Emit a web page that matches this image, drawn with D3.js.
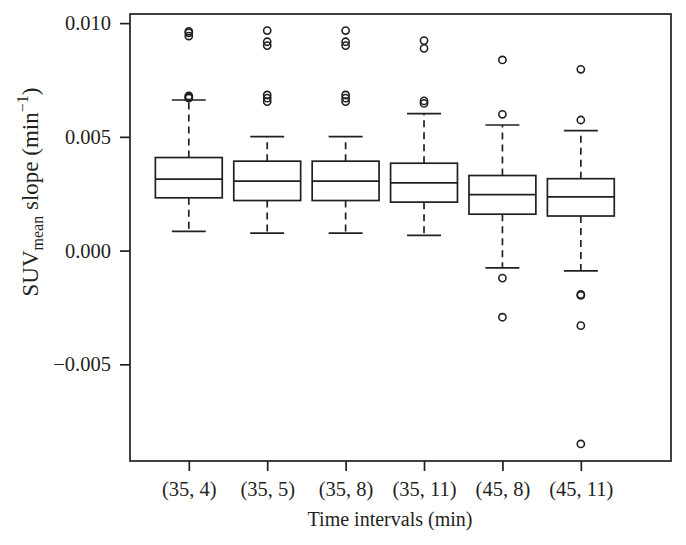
<!DOCTYPE html>
<html>
<head>
<meta charset="utf-8">
<script src="https://cdn.jsdelivr.net/npm/d3@7"></script>
<style>
  body { margin: 0; background: #fff; }
  #chart { width: 686px; height: 545px; }
  text { font-family: "Liberation Serif", "DejaVu Serif", serif; fill: #231f20; }
</style>
</head>
<body>
<div id="chart"></div>
<script>
// values
const categories = ["(35, 4)", "(35, 5)", "(35, 8)", "(35, 11)", "(45, 8)", "(45, 11)"];
const whiskerLow = [0.00084, 0.00077, 0.00077, 0.00067, -0.00076, -0.00089];
const q1 = [0.00232, 0.00220, 0.00220, 0.00213, 0.00160, 0.00152];
const median = [0.00314, 0.00305, 0.00305, 0.00298, 0.00246, 0.00236];
const q3 = [0.00409, 0.00393, 0.00393, 0.00384, 0.00330, 0.00316];
const whiskerHigh = [0.00662, 0.00501, 0.00501, 0.00602, 0.00552, 0.00527];
const outliers = [
    [0.00964, 0.00957, 0.00943, 0.00680, 0.00675, 0.00670],
    [0.00967, 0.00918, 0.00901, 0.00684, 0.00670, 0.00655],
    [0.00967, 0.00918, 0.00901, 0.00684, 0.00670, 0.00655],
    [0.00923, 0.00889, 0.00658, 0.00647],
    [0.00838, 0.00599, -0.00121, -0.00293],
    [0.00797, 0.00574, -0.00193, -0.00197, -0.00330, -0.00850]
];
const yTicks = [-0.005, 0.000, 0.005, 0.010];

function boxplot() {
    const width = 686, height = 545;
    const left = 130, right = 671, top = 14, bottom = 461;

    const svg = d3.select("#chart").append("svg")
        .attr("width", width)
        .attr("height", height);

    const x = d3.scaleLinear().domain([0.25, 7.15]).range([left, right]);
    const y = d3.scaleLinear().domain([-0.00925, 0.0104]).range([bottom, top]);

    const boxW = 0.853, capW = 0.433;
    const stats = categories.map((c, i) => ({
        pos: i + 1, lo: whiskerLow[i], q1: q1[i], med: median[i], q3: q3[i], hi: whiskerHigh[i], out: outliers[i]
    }));

    const g = svg.append("g").attr("stroke", "#231f20").attr("stroke-width", 1.7).attr("fill", "none");

    const box = g.selectAll("g.box").data(stats).join("g").attr("class", "box");

    // dashed whiskers
    box.append("line")
        .attr("x1", d => x(d.pos)).attr("x2", d => x(d.pos))
        .attr("y1", d => y(d.q3)).attr("y2", d => y(d.hi))
        .attr("stroke-dasharray", "7,5");
    box.append("line")
        .attr("x1", d => x(d.pos)).attr("x2", d => x(d.pos))
        .attr("y1", d => y(d.q1)).attr("y2", d => y(d.lo))
        .attr("stroke-dasharray", "7,5");

    // caps
    box.selectAll("line.cap").data(d => [d.lo, d.hi].map(v => ({ pos: d.pos, v: v })))
        .join("line").attr("class", "cap")
        .attr("x1", d => x(d.pos - capW / 2)).attr("x2", d => x(d.pos + capW / 2))
        .attr("y1", d => y(d.v)).attr("y2", d => y(d.v));

    box.append("rect")
        .attr("x", d => x(d.pos - boxW / 2))
        .attr("width", d => x(d.pos + boxW / 2) - x(d.pos - boxW / 2))
        .attr("y", d => y(d.q3))
        .attr("height", d => y(d.q1) - y(d.q3))
        .attr("fill", "#fff");

    box.append("line")
        .attr("x1", d => x(d.pos - boxW / 2)).attr("x2", d => x(d.pos + boxW / 2))
        .attr("y1", d => y(d.med)).attr("y2", d => y(d.med));

    box.selectAll("circle").data(d => d.out.map(v => ({ pos: d.pos, v: v })))
        .join("circle")
        .attr("cx", d => x(d.pos)).attr("cy", d => y(d.v))
        .attr("r", 3.6)
        .attr("stroke-width", 1.6);

    // frame
    svg.append("rect")
        .attr("x", left).attr("y", top)
        .attr("width", right - left).attr("height", bottom - top)
        .attr("fill", "none").attr("stroke", "#231f20").attr("stroke-width", 1.7);

    const yAxis = svg.append("g")
        .attr("transform", `translate(${left},0)`)
        .call(d3.axisLeft(y).tickValues(yTicks).tickFormat(d3.format(".3f")).tickSize(10).tickPadding(9));
    const xAxis = svg.append("g")
        .attr("transform", `translate(0,${bottom})`)
        .call(d3.axisBottom(x).tickValues(stats.map(d => d.pos)).tickFormat((d, i) => categories[i]).tickSize(10).tickPadding(10));

    [yAxis, xAxis].forEach(a => {
        a.select(".domain").remove();
        a.selectAll(".tick line").attr("stroke", "#231f20").attr("stroke-width", 1.7);
        a.selectAll(".tick text").attr("font-family", "Liberation Serif").attr("font-size", 20.5).attr("fill", "#231f20");
    });

    svg.append("text")
        .attr("x", 390)
        .attr("y", 526)
        .attr("text-anchor", "middle")
        .attr("font-size", 20)
        .text("Time intervals (min)");

    const yl = svg.append("text")
        .attr("transform", `translate(38,192) rotate(-90)`)
        .attr("text-anchor", "middle")
        .attr("font-size", 23);
    yl.append("tspan").text("SUV");
    yl.append("tspan").attr("font-size", 16).attr("dy", 5).text("mean");
    yl.append("tspan").attr("dy", -5).text(" slope (min");
    yl.append("tspan").attr("font-size", 16).attr("dy", -10).text("−1");
    yl.append("tspan").attr("dy", 10).text(")");
}

boxplot();
</script>
</body>
</html>
